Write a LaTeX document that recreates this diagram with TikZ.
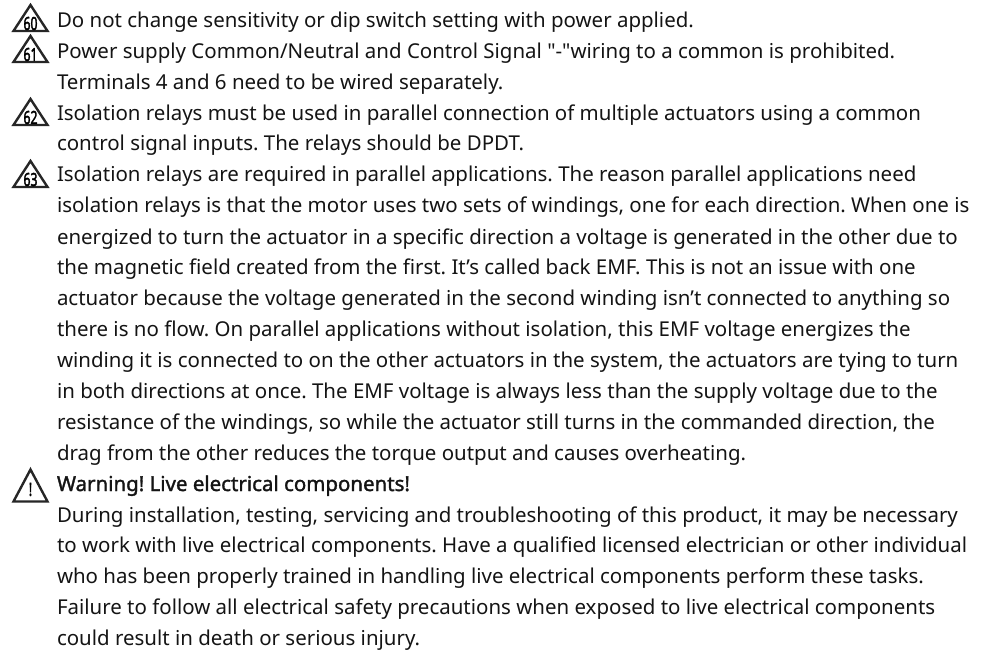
\documentclass[tikz,border=0pt]{standalone}
\usepackage{fontspec}
\setmainfont{Noto Sans}
\newfontfamily\rawfont{Noto Sans}
\newfontfamily\fakebold{Noto Sans}[FakeBold=1.6]
\newfontfamily\numfont{Noto Sans}[FakeBold=2.5]
\frenchspacing
\tikzset{
 txt/.style={anchor=base west,inner sep=0pt,outer sep=0pt,font=\fontsize{20.47}{24}\selectfont,text=black!92},
 tri/.style={draw=black!85,line width=2.4pt,line join=miter,fill=white},
 num/.style={inner sep=0pt,font=\fontsize{18}{18}\selectfont\numfont,xscale=.68}
}
\begin{document}
\begin{tikzpicture}[x=1pt,y=-1pt]
\useasboundingbox (0,0) rectangle (989,650);
\fill[white] (0,0) rectangle (989,650);
\foreach \yb/\n in {31/60,62/61,125/62,187/63}{
 \draw[tri] (13.5,\yb) -- (47.5,\yb) -- (30.5,\yb-26) -- cycle;
 \node[num] at (30.5,\yb-7.5) {\n};
}
\draw[tri] (13.5,501.5) -- (47.5,501.5) -- (30.5,469.5) -- cycle;
\node[num] at (30.5,489.5) {!};
\node[txt] (l1) at (57,28) {Do not change sensitivity or dip switch setting with power applied.};
\node[txt] (l2) at (57,59) {Power supply Common/Neutral and Control Signal {\rawfont"}-{\rawfont"}wiring to a common is prohibited.};
\node[txt] (l3) at (57,89.5) {Terminals 4 and 6 need to be wired separately.};
\node[txt] (l4) at (57,120.5) {Isolation relays must be used in parallel connection of multiple actuators using a common};
\node[txt] (l5) at (57,151) {control signal inputs. The relays should be DPDT.};
\node[txt] (l6) at (57,182) {Isolation relays are required in parallel applications. The reason parallel applications need};
\node[txt] (l7) at (57,213) {isolation relays is that the motor uses two sets of windings, one for each direction. When one is};
\node[txt] (l8) at (57,244) {energized to turn the actuator in a specific direction a voltage is generated in the other due to};
\node[txt] (l9) at (57,274.5) {the magnetic field created from the first. It’s called back EMF. This is not an issue with one};
\node[txt] (l10) at (57,305.5) {actuator because the voltage generated in the second winding isn’t connected to anything so};
\node[txt] (l11) at (57,336.5) {there is no flow. On parallel applications without isolation, this EMF voltage energizes the};
\node[txt] (l12) at (57,367) {winding it is connected to on the other actuators in the system, the actuators are tying to turn};
\node[txt] (l13) at (57,398) {in both directions at once. The EMF voltage is always less than the supply voltage due to the};
\node[txt] (l14) at (57,429) {resistance of the windings, so while the actuator still turns in the commanded direction, the};
\node[txt] (l15) at (57,460) {drag from the other reduces the torque output and causes overheating.};
\node[txt,font=\fontsize{20.47}{24}\selectfont\fakebold] (l16) at (57,491) {Warning! Live electrical components!};
\node[txt] (l17) at (57,522) {During installation, testing, servicing and troubleshooting of this product, it may be necessary};
\node[txt] (l18) at (57,552.5) {to work with live electrical components. Have a qualified licensed electrician or other individual};
\node[txt] (l19) at (57,583.3) {who has been properly trained in handling live electrical components perform these tasks.};
\node[txt] (l20) at (57,614) {Failure to follow all electrical safety precautions when exposed to live electrical components};
\node[txt] (l21) at (57,645) {could result in death or serious injury.};
\end{tikzpicture}
\end{document}
